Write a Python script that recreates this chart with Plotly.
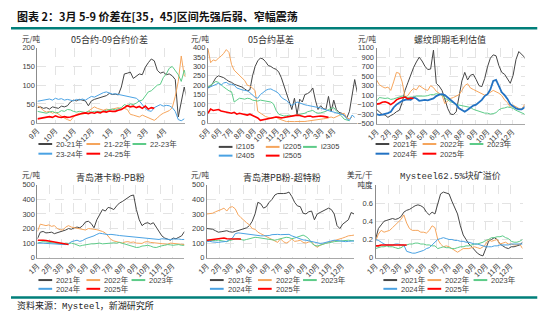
import pandas as pd
import plotly.graph_objects as go

W, H = 550, 322

GRAY = "#454545"
ORANGE = "#F5A55C"
GREEN = "#5DCB88"
BLUE = "#4AA2E3"
BLUE_DK = "#2272C3"
RED = "#FF0000"

# ---------------- 05-09 spread (sampled every 5 days from 1 Sep) ----------------
spread_names = ["20-21年", "21-22年", "22-23年", "23-24年", "24-25年"]
spread_2021 = [40, 42, 38, 40, 36, 42, 40, 38, 44, 42, 45, 55, 60, 58, 62, 60, 58, 45, 58, 62, 65, 68, 70, 72, 78, 75,
               76, 74, 95, 130, 132, 135, 118, 125, 130, 128, 148, 160, 170, 165, 140, 132, 135, 128, 130, 125, 115,
               15, 60, 95, 60]
spread_2122 = [45, 40, 32, 28, 30, 25, 28, 22, 18, 12, 8, 5, 15, 22, 25, 22, 25, 30, 35, 42, 38, 35, 33, 36, 34, 36,
               38, 40, 36, 38, 35, 22, 20, 18, 15, 20, 16, 12, 10, 6, 12, 20, 25, 28, 32, 40, 70, 110, 178, 125, 122]
spread_2223 = [30, 28, 26, 25, 28, 30, 26, 27, 32, 30, 35, 34, 30, 28, 30, 28, 27, 30, 28, 30, 30, 32, 30, 33, 35, 36,
               34, 38, 40, 48, 45, 50, 48, 52, 58, 60, 70, 82, 85, 92, 100, 102, 120, 130, 145, 150, 140, 128, 110,
               140, 115]
spread_2324 = [57, 58, 60, 62, 63, 60, 65, 62, 64, 60, 62, 60, 58, 62, 60, 63, 60, 65, 70, 68, 72, 78, 80, 82, 78, 76,
               77, 75, 75, 72, 70, 68, 66, 65, 58, 48, 38, 32, 30, 40, 45, 48, 44, 46, 45, 40, 30, 8, 5, 10]
spread_2425 = [10, 12, 14, 15, 16, 14, 18, 15, 14, 16, 14, 15, 17, 20, 22, 25, 26, 24, 27, 25, 28, 26, 30, 28, 31, 30,
               30, 33, 35, 40, 45, 42, 44, 40, 43, 38, 44, 36, 40, 38]

# ---------------- 05 contract basis (weekly from 1 May) ----------------
basis_names = ["i2105", "i2205", "i2305", "i2405", "i2505"]
basis_2105 = [185, 195, 215, 240, 250, 245, 240, 230, 220, 215, 205, 200, 195, 190, 180, 170, 175, 250, 300, 330, 345,
              340, 325, 305, 300, 290, 285, 270, 240, 200, 160, 110, 70, 130, 45, 125, 110, 150, 155, 165, 185, 120,
              70, 90, 75, 70, 140, 60, 120, 70, 55, 50, 35, 25, 60, 140, 230, 160]
basis_2205 = [395, 320, 335, 330, 345, 355, 370, 390, 375, 310, 280, 265, 250, 240, 225, 200, 195, 185, 170, 60, 50,
              40, 32, 28, 22, 25, 30, 20, 15, 8, 5, 6, 4, 5, 6, 5, 7, 6, 8, 10, 9, 12, 12, 15, 20, 22, 28, 30, 25, 30,
              38, 45, 50, 25, 20, 30]
basis_2305 = [190, 200, 210, 220, 215, 200, 190, 180, 170, 165, 110, 120, 130, 128, 125, 130, 128, 120, 118, 115, 120,
              118, 115, 113, 110, 100, 65, 45, 40, 35, 37, 40, 35, 38, 40, 42, 45, 50, 58, 62, 65, 55, 50, 52, 55, 60,
              70, 75, 80, 62, 50, 35, 18, 12, 10]
basis_2405 = [185, 192, 195, 205, 210, 200, 212, 215, 205, 205, 200, 185, 178, 175, 172, 170, 160, 145, 135, 130, 150,
              160, 172, 178, 180, 172, 166, 155, 135, 125, 118, 102, 92, 100, 110, 105, 98, 95, 92, 90, 88, 85, 80, 78,
              72, 68, 65, 60, 58, 52, 50, 45, 40, 20, 12, 40, 28]
basis_2505 = [50, 72, 65, 68, 70, 62, 58, 55, 52, 50, 55, 45, 50, 47, 45, 40, 45, 38, 30, 25, 12, 15, 20, 22, 25, 28,
              30, 28, 25, 27, 30, 32, 35, 36, 40, 38, 32, 30, 34, 35, 30, 32, 30, 35, 33, 30, 28]

year_names = ["2021年", "2022年", "2023年", "2024年", "2025年"]

# ---------------- rebar spot margin (weekly from 1 Jan) ----------------
margin_2021 = [-200, -250, -310, -320, -370, -330, -300, -250, -220, -60, 200, 360, 540, 680, 800, 900, 820, 710, 640,
               650, 1050, 350, 290, 200, 20, -180, -300, -310, -250, 50, 400, 580, 420, 520, 540, 430, 300, 280, 450,
               700, 880, 950, 930, 720, 580, 540, 450, 350, 520, 850, 1020, 950, 900, 760]
margin_2022 = [420, 320, 280, 250, 270, 200, 380, 580, 560, 380, 60, 90, 180, 240, 210, 300, 260, 220, 200, 300, 260,
               180, 140, 100, -80, -20, 30, 50, 80, 110, 200, 300, 340, 250, 220, 190, 160, 140, 100, 120, 160, 200,
               170, 140, 90, 0, -60, -150, -110, -150, -180, -200, -100, -180]
margin_2023 = [-30, 50, 40, 30, 40, 10, 20, 40, 60, 80, 70, 50, 60, 60, 80, 80, 70, 80, 90, 110, 110, 130, 120, 100,
               40, 0, -40, -60, -100, -110, -120, -130, -150, -160, -200, -220, -250, -260, -280, -280, -300, -290,
               -270, -210, -180, -170, -150, -160, -180, -220, -250, -280, -300, -380]
margin_2024 = [-300, -320, -310, -300, -280, -250, -160, -100, -60, -20, 0, 10, 0, 50, 30, -20, -10, 0, -10, 10, 30,
               80, 110, 120, 100, 50, 0, -50, -100, -180, -220, -250, -210, -160, -120, -100, -50, 0, 80, 120, 220,
               400, 420, 300, 160, 100, 20, -90, -130, -180, -200, -200, -160, -80]
margin_2025 = [-90, -80, -50, -40, -60, -100, -60, 0, 30, 50, 60, 20, 40, 30]

# ---------------- Qingdao: Carajas fines minus PB fines ----------------
kpb_2021 = [130, 175, 180, 170, 172, 175, 165, 170, 175, 180, 190, 200, 195, 205, 210, 205, 220, 245, 250, 235, 205,
            260, 300, 330, 320, 345, 340, 330, 355, 375, 385, 400, 410, 425, 430, 330, 260, 220, 235, 240, 230, 240,
            210, 175, 150, 135, 125, 120, 135, 130, 140, 150, 180]
kpb_2022 = [180, 230, 225, 220, 225, 215, 220, 200, 192, 190, 210, 220, 210, 205, 200, 195, 192, 190, 200, 195, 195,
            192, 188, 180, 170, 150, 125, 115, 110, 105, 100, 108, 110, 105, 108, 100, 100, 98, 108, 110, 105, 102,
            100, 100, 95, 95, 92, 100, 98, 95, 92, 90, 90]
kpb_2023 = [100, 105, 110, 108, 105, 102, 100, 98, 95, 96, 100, 98, 100, 95, 90, 80, 85, 90, 92, 95, 95, 98, 100, 95,
            95, 98, 100, 102, 100, 105, 100, 92, 85, 80, 75, 70, 72, 80, 82, 85, 80, 72, 70, 78, 82, 85, 90, 88, 85,
            88, 90, 85, 85]
kpb_2024 = [100, 102, 100, 98, 97, 95, 93, 92, 90, 92, 90, 95, 110, 115, 120, 112, 118, 130, 135, 142, 150, 160, 168,
            165, 160, 158, 160, 155, 155, 152, 150, 148, 145, 145, 140, 138, 140, 135, 132, 130, 128, 125, 128, 125,
            130, 128, 125, 125, 128, 130, 128, 125, 125]
kpb_2025 = [120, 122, 120, 118, 115, 112, 108, 102, 98, 96, 93, 90]

# ---------------- Qingdao: PB fines minus Super Special fines ----------------
pbs_2021 = [200, 198, 195, 185, 175, 178, 182, 185, 178, 175, 180, 185, 190, 195, 205, 220, 250, 300, 380, 370, 340,
            350, 380, 400, 430, 440, 438, 440, 442, 450, 420, 380, 355, 350, 305, 300, 315, 320, 260, 300, 310, 320,
            335, 340, 330, 300, 220, 200, 230, 245, 260, 310, 300]
pbs_2022 = [300, 300, 305, 315, 320, 330, 340, 320, 345, 350, 335, 295, 275, 255, 240, 225, 200, 195, 175, 165, 155,
            145, 130, 120, 115, 105, 130, 110, 100, 110, 130, 112, 115, 120, 105, 100, 108, 110, 85, 72, 85, 95, 100,
            105, 110, 115, 120, 125, 135, 142, 150, 152, 155]
pbs_2023 = [120, 118, 115, 118, 120, 116, 112, 110, 118, 125, 128, 130, 125, 120, 125, 130, 135, 140, 138, 135, 132,
            130, 128, 125, 120, 125, 130, 135, 140, 138, 130, 135, 140, 150, 155, 145, 130, 100, 85, 80, 88, 92, 98,
            100, 105, 110, 112, 115, 118, 120, 120, 118, 115]
pbs_2024 = [110, 112, 108, 105, 105, 108, 110, 112, 125, 135, 165, 170, 168, 165, 162, 160, 158, 155, 152, 150, 150,
            150, 152, 158, 160, 160, 158, 160, 162, 160, 150, 142, 138, 125, 122, 120, 115, 110, 105, 100, 98, 100,
            105, 110, 115, 120, 118, 115, 112, 110, 112, 115, 115]
pbs_2025 = [120, 122, 125, 130, 132, 135, 135, 130, 130, 128, 125, 130, 128]

# ---------------- Mysteel 62.5% lump premium ----------------
lump_2021 = [0.20, 0.32, 0.36, 0.40, 0.41, 0.42, 0.43, 0.42, 0.43, 0.45, 0.50, 0.52, 0.53, 0.55, 0.57, 0.58, 0.57,
             0.55, 0.50, 0.47, 0.50, 0.48, 0.60, 0.70, 0.72, 0.71, 0.70, 0.62, 0.55, 0.48, 0.35, 0.25, 0.20, 0.15,
             0.12, 0.08, 0.05, 0.03, 0.02, 0.10, 0.18, 0.20, 0.22, 0.20, 0.15, 0.13, 0.11, 0.10, 0.12, 0.12, 0.13,
             0.14, 0.17]
lump_2022 = [0.18, 0.26, 0.30, 0.28, 0.29, 0.30, 0.33, 0.36, 0.38, 0.42, 0.47, 0.38, 0.32, 0.30, 0.30, 0.30, 0.28,
             0.28, 0.27, 0.30, 0.35, 0.33, 0.20, 0.15, 0.12, 0.13, 0.12, 0.10, 0.08, 0.06, 0.08, 0.10, 0.10, 0.10,
             0.11, 0.12, 0.11, 0.10, 0.12, 0.15, 0.20, 0.18, 0.19, 0.20, 0.15, 0.16, 0.17, 0.15, 0.15, 0.14, 0.14,
             0.15, 0.10]
lump_2023 = [0.10, 0.11, 0.12, 0.12, 0.13, 0.12, 0.12, 0.11, 0.10, 0.11, 0.13, 0.14, 0.15, 0.15, 0.16, 0.16, 0.15,
             0.15, 0.14, 0.14, 0.13, 0.13, 0.10, 0.11, 0.12, 0.11, 0.11, 0.10, 0.10, 0.11, 0.12, 0.12, 0.13, 0.13,
             0.14, 0.15, 0.15, 0.16, 0.17, 0.19, 0.20, 0.22, 0.22, 0.23, 0.23, 0.24, 0.22, 0.21, 0.18, 0.17, 0.17,
             0.18, 0.20]
lump_2024 = [0.20, 0.19, 0.17, 0.15, 0.14, 0.14, 0.14, 0.15, 0.15, 0.14, 0.14, 0.07, 0.06, 0.05, 0.05, 0.06, 0.07,
             0.08, 0.10, 0.11, 0.14, 0.17, 0.20, 0.21, 0.22, 0.21, 0.20, 0.20, 0.19, 0.19, 0.18, 0.18, 0.17, 0.17,
             0.16, 0.15, 0.15, 0.14, 0.13, 0.12, 0.12, 0.12, 0.13, 0.13, 0.14, 0.14, 0.14, 0.14, 0.15, 0.15, 0.15,
             0.15, 0.15]
lump_2025 = [0.13, 0.13, 0.14, 0.14, 0.14, 0.14, 0.14, 0.14, 0.14, 0.14, 0.14, 0.14]


def px(x):
    return x / W


def py(y):
    return 1 - y / H


CJK = "Noto Sans CJK SC"
TICK_FONT = dict(family="Liberation Sans, " + CJK, size=7.5, color="#404040")

panels = [
    dict(title="05合约-09合约价差", title_font=CJK, title_xy=(100, 37),
         unit="元/吨", unit_xy=(20, 36), unit_bg=False,
         box=(27, 178, 45, 122), start="2020-09-01", step="5D", xr=["2020-09-01", "2021-05-06"],
         tick0="2020-09-01", nticks=8, yr=[0, 200], dtick=50,
         series=[(spread_names[0], spread_2021, GRAY, 1), (spread_names[1], spread_2122, ORANGE, 1),
                 (spread_names[2], spread_2223, GREEN, 1), (spread_names[3], spread_2324, BLUE, 1),
                 (spread_names[4], spread_2425, RED, 1.6)],
         leg_cols=[28, 77, 124], leg_rows=[144, 154]),
    dict(title="05合约基差", title_font=CJK, title_xy=(265, 37),
         unit="元/吨", unit_xy=(193, 36), unit_bg=False,
         box=(201, 353, 45, 122), start="2020-05-01", step="7D", xr=["2020-05-01", "2021-06-03"],
         tick0="2020-05-01", nticks=12, yr=[0, 400], dtick=50,
         series=[(basis_names[0], basis_2105, GRAY, 1), (basis_names[1], basis_2205, ORANGE, 1),
                 (basis_names[2], basis_2305, GREEN, 1), (basis_names[3], basis_2405, BLUE, 1),
                 (basis_names[4], basis_2505, RED, 1.6)],
         leg_cols=[212, 260, 298], leg_rows=[147, 156]),
    dict(title="螺纹即期毛利估值", title_font=CJK, title_xy=(448, 37),
         unit="元/吨", unit_xy=(363, 36), unit_bg=False,
         box=(373, 524, 45, 123), start="2021-01-01", step="7D", xr=["2021-01-01", "2021-12-31"],
         tick0="2021-01-01", nticks=12, yr=[-500, 1100], dtick=200,
         series=[(year_names[0], margin_2021, GRAY, 1), (year_names[1], margin_2022, ORANGE, 1),
                 (year_names[2], margin_2023, GREEN, 1), (year_names[3], margin_2024, BLUE_DK, 1.8),
                 (year_names[4], margin_2025, RED, 1.6)],
         leg_cols=[372, 420, 468], leg_rows=[144, 154]),
    dict(title="青岛港卡粉-PB粉", title_font=CJK, title_xy=(102, 178),
         unit="元/吨", unit_xy=(20, 175.5), unit_bg=False,
         box=(27, 177, 186, 261), start="2021-01-01", step="7D", xr=["2021-01-01", "2021-12-31"],
         tick0="2021-01-01", nticks=12, yr=[0, 500], dtick=100,
         series=[(year_names[0], kpb_2021, GRAY, 1), (year_names[1], kpb_2022, ORANGE, 1),
                 (year_names[2], kpb_2023, GREEN, 1), (year_names[3], kpb_2024, BLUE, 1),
                 (year_names[4], kpb_2025, RED, 1.6)],
         leg_cols=[28, 77, 123], leg_rows=[284, 293]),
    dict(title="青岛港PB粉-超特粉", title_font=CJK, title_xy=(277, 178),
         unit="元/吨", unit_xy=(193, 175.5), unit_bg=False,
         box=(200, 350, 186, 261), start="2021-01-01", step="7D", xr=["2021-01-01", "2021-12-31"],
         tick0="2021-01-01", nticks=12, yr=[0, 500], dtick=100,
         series=[(year_names[0], pbs_2021, GRAY, 1), (year_names[1], pbs_2022, ORANGE, 1),
                 (year_names[2], pbs_2023, GREEN, 1), (year_names[3], pbs_2024, BLUE, 1),
                 (year_names[4], pbs_2025, RED, 1.6)],
         leg_cols=[203, 252, 298], leg_rows=[284, 293]),
    dict(title="Mysteel62.5%块矿溢价", title_font="Liberation Mono, " + CJK, title_xy=(448, 177),
         unit="美元/干<br>吨度", unit_xy=(370, 181), unit_bg=True,
         box=(372, 522, 186, 261), start="2021-01-01", step="7D", xr=["2021-01-01", "2021-12-31"],
         tick0="2021-01-01", nticks=12, yr=[0, 0.8], dtick=0.2,
         series=[(year_names[0], lump_2021, GRAY, 1), (year_names[1], lump_2022, ORANGE, 1),
                 (year_names[2], lump_2023, GREEN, 1), (year_names[3], lump_2024, BLUE, 1),
                 (year_names[4], lump_2025, RED, 1.6)],
         leg_cols=[380, 425, 472], leg_rows=[284, 293]),
]

fig = go.Figure()
shapes, annotations = [], []
layout_axes = {}

for i, p in enumerate(panels, start=1):
    xa = "x" if i == 1 else f"x{i}"
    ya = "y" if i == 1 else f"y{i}"
    for name, vals, color, width in p["series"]:
        dates = pd.date_range(p["start"], periods=len(vals), freq=p["step"])
        fig.add_trace(go.Scatter(x=dates, y=vals, mode="lines", name=name,
                                 line=dict(color=color, width=width),
                                 xaxis=xa, yaxis=ya, showlegend=False))
    ticks = pd.date_range(p["tick0"], periods=p["nticks"], freq="MS")
    x0, x1, y0, y1 = p["box"]
    layout_axes["xaxis" if i == 1 else f"xaxis{i}"] = dict(
        domain=[px(x0), px(x1)], anchor=ya, type="date", range=p["xr"],
        tickvals=list(ticks), ticktext=[f"{d.month}月" for d in ticks], tickangle=-45,
        tickfont=TICK_FONT, showgrid=True, gridcolor="#e3e3e3", griddash="dash", gridwidth=0.6,
        showline=True, linecolor="#a8a8a8", linewidth=1, ticks="", zeroline=False, fixedrange=True)
    layout_axes["yaxis" if i == 1 else f"yaxis{i}"] = dict(
        domain=[py(y1), py(y0)], anchor=xa, range=p["yr"], dtick=p["dtick"], tick0=p["yr"][0],
        tickfont=TICK_FONT, showgrid=True, gridcolor="#e3e3e3", griddash="dash", gridwidth=0.6,
        showline=True, linecolor="#8c8c8c", linewidth=1, ticks="", zeroline=False)

    # panel title and unit label
    annotations.append(dict(text=p["title"], x=px(p["title_xy"][0]), y=py(p["title_xy"][1]),
                            xref="paper", yref="paper", xanchor="center", yanchor="middle", showarrow=False,
                            font=dict(family=p["title_font"], size=9, color="#303030")))
    annotations.append(dict(text=p["unit"], x=px(p["unit_xy"][0]), y=py(p["unit_xy"][1]),
                            xref="paper", yref="paper", xanchor="right" if p["unit_bg"] else "center",
                            yanchor="middle", showarrow=False, align="right",
                            bgcolor="white" if p["unit_bg"] else None, borderpad=0,
                            font=dict(family=CJK, size=7.5, color="#303030")))

    # two-row legend under each panel
    for j, (name, vals, color, width) in enumerate(p["series"]):
        lx = p["leg_cols"][j % 3]
        ly = p["leg_rows"][j // 3]
        shapes.append(dict(type="line", xref="paper", yref="paper", x0=px(lx), x1=px(lx + 14),
                           y0=py(ly), y1=py(ly), line=dict(color=color, width=2)))
        annotations.append(dict(text=name, x=px(lx + 16), y=py(ly), xref="paper", yref="paper",
                                xanchor="left", yanchor="middle", showarrow=False,
                                font=dict(family="Liberation Sans, " + CJK, size=7.5, color="#404040")))

# heading, rules and source note
annotations.append(dict(text="<b>图表 2：3月 5-9 价差在[35，45]区间先强后弱、窄幅震荡</b>", x=px(4), y=py(12),
                        xref="paper", yref="paper", xanchor="left", yanchor="middle", showarrow=False,
                        font=dict(family=CJK, size=11, color="#111111")))
annotations.append(dict(text="资料来源：Mysteel，新湖研究所", x=px(4), y=py(311),
                        xref="paper", yref="paper", xanchor="left", yanchor="middle", showarrow=False,
                        font=dict(family="Liberation Mono, " + CJK, size=9, color="#222222")))
shapes.append(dict(type="line", xref="paper", yref="paper", x0=0, x1=px(537), y0=py(25), y1=py(25),
                   line=dict(color="#007F7A", width=2.5)))
shapes.append(dict(type="line", xref="paper", yref="paper", x0=0, x1=px(537), y0=py(302), y1=py(302),
                   line=dict(color="#007F7A", width=2.5)))

fig.update_layout(width=W, height=H, margin=dict(l=0, r=0, t=0, b=0), paper_bgcolor="white",
                  plot_bgcolor="white", showlegend=False, shapes=shapes, annotations=annotations,
                  **layout_axes)

fig.write_html("out.html", config={"displayModeBar": False})
